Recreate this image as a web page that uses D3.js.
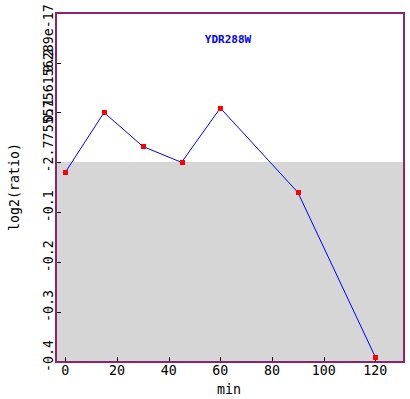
<!DOCTYPE html>
<html lang="en">
<head>
<meta charset="UTF-8">
<title>YDR288W</title>
<script src="https://d3js.org/d3.v7.min.js"></script>
<style>
  body { margin: 0; background: #fff; }
  text { font-family: "DejaVu Sans Mono", monospace; }
</style>
</head>
<body>
<div id="chart"></div>
<script>
// data
var times = [0, 15, 30, 45, 60, 90, 120];
var ratios = [-0.02, 0.1, 0.032, 0.0, 0.109, -0.06, -0.39];
var xTicks = [0, 20, 40, 60, 80, 100, 120];
var yTicks = [-0.4, -0.3, -0.2, -0.1, 0, 0.1, 0.2];
var yTickLabels = ["-0.4", "-0.3", "-0.2", "-0.1", "-2.77555756156289e-17", "0.1", "0.2"];
var geneName = "YDR288W";

var W = 410, H = 399;
var plot = {left: 56, right: 404, top: 13, bottom: 362};

var svg = d3.select("#chart").append("svg")
  .attr("width", W)
  .attr("height", H);

var x = d3.scaleLinear().domain([-3.6, 131.1]).range([plot.left, plot.right]);
var y = d3.scaleLinear().domain([-0.4, 0.3]).range([plot.bottom, plot.top - 0.3]);

// gray region below zero
svg.append("rect")
  .attr("x", plot.left)
  .attr("y", Math.round(y(0)))
  .attr("width", plot.right - plot.left)
  .attr("height", plot.bottom - Math.round(y(0)))
  .attr("fill", "#d6d6d6")
  .attr("shape-rendering", "crispEdges");

// ticks pointing inward
svg.append("g").selectAll("line")
  .data(xTicks).enter().append("line")
  .attr("x1", function(d) { return Math.round(x(d)) + 0.5; })
  .attr("x2", function(d) { return Math.round(x(d)) + 0.5; })
  .attr("y1", plot.bottom).attr("y2", plot.bottom - 5)
  .attr("stroke", "#000");

svg.append("g").selectAll("line")
  .data(yTicks).enter().append("line")
  .attr("y1", function(d) { return Math.round(y(d)) + 0.5; })
  .attr("y2", function(d) { return Math.round(y(d)) + 0.5; })
  .attr("x1", plot.left).attr("x2", plot.left + 5)
  .attr("stroke", "#000");

// tick labels
svg.append("g").selectAll("text")
  .data(xTicks).enter().append("text")
  .attr("x", function(d) { return x(d); })
  .attr("y", 375)
  .attr("text-anchor", "middle")
  .attr("font-size", "13.3px")
  .text(function(d) { return d; });

svg.append("g").selectAll("text")
  .data(yTicks).enter().append("text")
  .attr("transform", function(d) { return "translate(53," + (y(d) + 10) + ") rotate(-90)"; })
  .attr("text-anchor", "start")
  .attr("font-size", "13.3px")
  .text(function(d, i) { return yTickLabels[i]; });

// line and markers
var line = d3.line()
  .x(function(d, i) { return x(times[i]); })
  .y(function(d) { return y(d); });

svg.append("path")
  .datum(ratios)
  .attr("d", line)
  .attr("fill", "none")
  .attr("stroke", "#0000ff")
  .attr("stroke-width", 1);

svg.append("g").selectAll("rect")
  .data(ratios).enter().append("rect")
  .attr("x", function(d, i) { return Math.round(x(times[i])) - 2; })
  .attr("y", function(d) { return Math.round(y(d)) - 2; })
  .attr("width", 5).attr("height", 5)
  .attr("fill", "#ff0000")
  .attr("shape-rendering", "crispEdges");

// frame
svg.append("rect")
  .attr("x", plot.left).attr("y", plot.top)
  .attr("width", plot.right - plot.left).attr("height", plot.bottom - plot.top)
  .attr("fill", "none")
  .attr("stroke", "#8b2370")
  .attr("stroke-width", 2)
  .attr("shape-rendering", "crispEdges");

// title and axis names
svg.append("text")
  .attr("x", 228).attr("y", 43)
  .attr("text-anchor", "middle")
  .attr("font-size", "11px")
  .attr("font-weight", "bold")
  .attr("fill", "#0000ff")
  .text(geneName);

svg.append("text")
  .attr("x", 229).attr("y", 394)
  .attr("text-anchor", "middle")
  .attr("font-size", "13.3px")
  .text("min");

svg.append("text")
  .attr("transform", "translate(19,187) rotate(-90)")
  .attr("text-anchor", "middle")
  .attr("font-size", "13.3px")
  .text("log2(ratio)");
</script>
</body>
</html>
